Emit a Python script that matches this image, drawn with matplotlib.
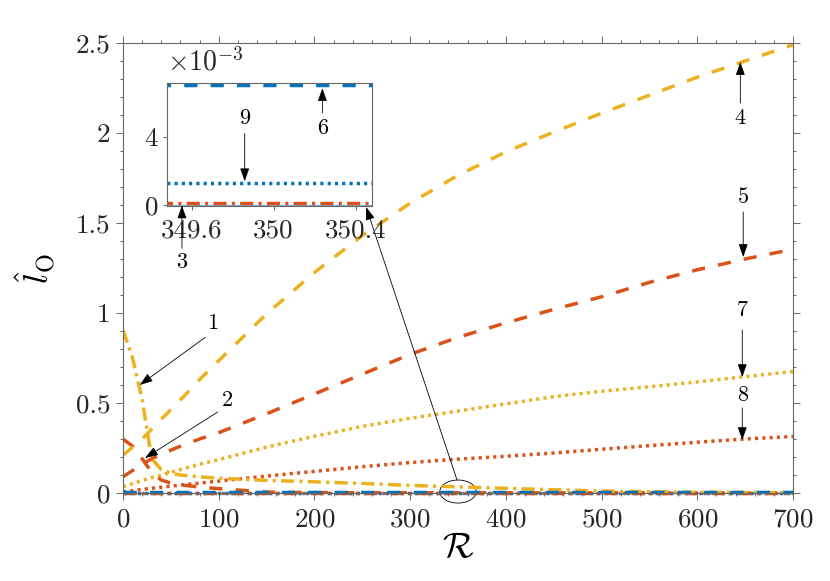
import numpy as np
import matplotlib.pyplot as plt
from matplotlib.patches import Ellipse
from matplotlib.ticker import MultipleLocator

plt.rcParams['font.family'] = 'serif'
plt.rcParams['font.serif'] = ['cmr10']
plt.rcParams['mathtext.fontset'] = 'cm'
plt.rcParams['axes.formatter.use_mathtext'] = True

blue = '#0072BD'
red = '#D95319'
yellow = '#EDB120'

# Reynolds number samples
R = [0, 10, 20, 30, 40, 50, 60, 80, 100, 150, 200, 250, 300, 350, 400, 450, 500, 550, 600, 650, 700]

l1 = [0.905, 0.75, 0.52, 0.19, 0.13, 0.11, 0.10, 0.09, 0.082, 0.07, 0.062, 0.053, 0.042, 0.034,
      0.026, 0.018, 0.011, 0.007, 0.004, 0.003, 0.002]
l2 = [0.30, 0.26, 0.19, 0.115, 0.072, 0.055, 0.045, 0.033, 0.024, 0.005, 0.002, 0.001, 0.001, 0.001,
      0.001, 0.001, 0.001, 0.001, 0.001, 0.001, 0.001]
l3 = [0.00014] * len(R)
l4 = [0.21, 0.255, 0.30, 0.355, 0.41, 0.463, 0.517, 0.63, 0.735, 0.995, 1.225, 1.43, 1.61, 1.765,
      1.895, 2.005, 2.11, 2.21, 2.31, 2.40, 2.49]
l5 = [0.09, 0.125, 0.16, 0.19, 0.215, 0.238, 0.26, 0.30, 0.335, 0.44, 0.55, 0.66, 0.77, 0.865,
      0.945, 1.02, 1.09, 1.17, 1.24, 1.30, 1.354]
l6 = [0.00703] * len(R)
l7 = [0.035, 0.052, 0.07, 0.085, 0.10, 0.115, 0.13, 0.16, 0.185, 0.255, 0.315, 0.37, 0.415, 0.455,
      0.495, 0.535, 0.565, 0.59, 0.617, 0.646, 0.675]
l8 = [0.007, 0.013, 0.02, 0.026, 0.032, 0.038, 0.044, 0.055, 0.066, 0.094, 0.12, 0.146, 0.169, 0.188,
      0.204, 0.222, 0.243, 0.263, 0.282, 0.30, 0.314]
l9 = [0.00131] * len(R)
l0 = [0.0] * len(R)

dashed = (0, (3.8, 3.8))
dotted = (0, (0.9, 1.2))
dashdot = (0, (3.8, 1.5, 0.9, 1.5))
lw = 2.5

fig = plt.figure(figsize=(8.3, 5.81), dpi=100)
ax = fig.add_axes([0.1482, 0.1515, 0.8072, 0.7745])

ax.plot(R, l0, color='#6fb0e0', lw=0.8)
ax.plot(R, l9, color=blue, lw=lw, ls=dotted, clip_on=False)
ax.plot(R, l3, color=red, lw=lw, ls=dashdot, clip_on=False)
ax.plot(R, l8, color=red, lw=lw, ls=dotted)
ax.plot(R, l7, color=yellow, lw=lw, ls=dotted)
ax.plot(R, l5, color=red, lw=lw, ls=dashed)
ax.plot(R, l2, color=red, lw=lw, ls=dashed)
ax.plot(R, l4, color=yellow, lw=lw, ls=dashed)
ax.plot(R, l1, color=yellow, lw=lw, ls=dashdot)
ax.plot(R, l6, color=blue, lw=lw, ls=dashed, clip_on=False)

ax.set_xlim(0, 700)
ax.set_ylim(0, 2.5)
ax.xaxis.set_major_locator(MultipleLocator(100))
ax.xaxis.set_minor_locator(MultipleLocator(20))
ax.yaxis.set_major_locator(MultipleLocator(0.5))
ax.yaxis.set_minor_locator(MultipleLocator(0.1))
ax.yaxis.set_major_formatter(plt.FuncFormatter(lambda v, p: f'{v:g}'))

axcol = '#666666'
for s in ax.spines.values():
    s.set_color(axcol)
    s.set_linewidth(0.8)
ax.tick_params(which='both', direction='out', top=True, right=True, color=axcol,
               labelcolor='#262626', labelsize=19.5, width=0.7)
ax.tick_params(which='major', length=5)
ax.tick_params(which='minor', length=2.5)
ax.tick_params(axis='x', pad=6)
ax.tick_params(axis='y', pad=4)

ax.set_xlabel(r'$\mathcal{R}$', fontsize=26, labelpad=0)
ax.set_ylabel(r'$\hat{l}_{\mathrm{O}}$', fontsize=25)
ax.yaxis.set_label_coords(-0.097, 0.5)

arrow = dict(arrowstyle='-|>,head_length=0.8,head_width=0.28', color='k', lw=0.6,
             shrinkA=0, shrinkB=0, mutation_scale=10)

def label(a, txt, tx, ty, x0, y0, x1, y1):
    a.annotate('', xy=(x1, y1), xytext=(x0, y0), arrowprops=arrow, annotation_clip=False)
    a.text(tx, ty, txt, fontsize=16, ha='center', va='center', color='k')

label(ax, '1', 94, 0.944, 86, 0.865, 17.5, 0.60)
label(ax, '2', 109, 0.517, 99, 0.45, 23, 0.194)
label(ax, '4', 645, 2.083, 645, 2.167, 645, 2.394)
label(ax, '5', 648, 1.644, 648, 1.561, 648, 1.311)
label(ax, '7', 647, 1.017, 647, 0.906, 647, 0.644)
label(ax, '8', 647, 0.544, 647, 0.472, 647, 0.294)

ax.add_patch(Ellipse((350, 0.008), 38, 0.128, fill=False, edgecolor='k', lw=0.6, clip_on=False))
ax.annotate('', xy=(254, 1.589), xytext=(349, 0.072), arrowprops=arrow)

# inset
ins = fig.add_axes([0.2012, 0.6454, 0.247, 0.2117])
ins.plot(R, l0, color='#6fb0e0', lw=0.8)
ins.plot(R, l9, color=blue, lw=lw, ls=dotted)
ins.plot(R, l3, color=red, lw=lw, ls=dashdot)
ins.plot(R, l6, color=blue, lw=lw, ls=dashed)
ins.set_xlim(349.48, 350.48)
ins.set_ylim(-0.00005, 0.00715)
ins.set_xticks([349.6, 350, 350.4], labels=['349.6', '350', '350.4'])
ins.set_yticks([0, 0.004])
ins.ticklabel_format(axis='y', style='sci', scilimits=(0, 0))
ins.yaxis.OFFSETTEXTPAD = 9
ins.yaxis.get_offset_text().set_fontsize(20)
ins.yaxis.get_offset_text().set_color('#262626')
for s in ins.spines.values():
    s.set_color(axcol)
    s.set_linewidth(0.8)
ins.tick_params(direction='out', length=3, color=axcol, labelcolor='#262626', labelsize=19.5,
                width=0.7, pad=3)
ins.tick_params(axis='x', pad=6)

label(ins, '3', 349.553, -0.00334, 349.553, -0.00252, 349.553, -0.00002)
label(ins, '9', 349.859, 0.0051, 349.859, 0.0042, 349.859, 0.0014)
label(ins, '6', 350.238, 0.0045, 350.238, 0.0054, 350.238, 0.00685)

fig.savefig('out.png', dpi=100)
